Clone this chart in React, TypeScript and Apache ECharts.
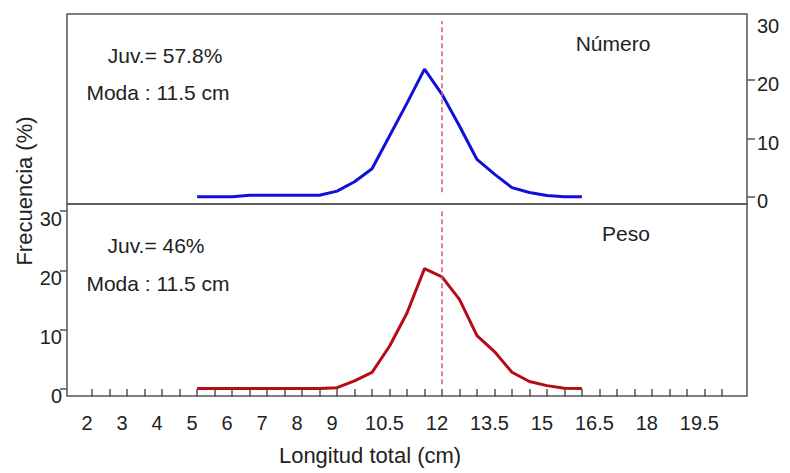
import React, { useEffect, useRef } from 'react';
import * as echarts from 'echarts';

// tallas (cm), cada 0.5 cm
const lengths = [5, 5.5, 6, 6.5, 7, 7.5, 8, 8.5, 9, 9.5, 10, 10.5, 11, 11.5, 12, 12.5, 13, 13.5, 14, 14.5, 15, 15.5, 16];

// frecuencia en número (%)
const numero = [0.05, 0.05, 0.05, 0.3, 0.3, 0.3, 0.3, 0.3, 1.0, 2.6, 4.8, 10.4, 16.0, 21.8, 17.5, 12.1, 6.4, 3.9, 1.6, 0.75, 0.25, 0.05, 0.05];

// frecuencia en peso (%)
const peso = [0.05, 0.05, 0.05, 0.05, 0.05, 0.05, 0.05, 0.05, 0.2, 1.35, 2.8, 7.2, 12.8, 20.3, 18.9, 15.1, 9.0, 6.3, 2.8, 1.25, 0.55, 0.1, 0.05];

const xTicks = [2, 2.5, 3, 3.5, 4, 4.5, 5, 5.5, 6, 6.5, 7, 7.5, 8, 8.5, 9, 9.5, 10, 10.5, 11, 11.5, 12, 12.5, 13, 13.5, 14, 14.5, 15, 15.5, 16, 16.5, 17, 17.5, 18, 18.5, 19, 19.5, 20];
const xLabels = [2, 3, 4, 5, 6, 7, 8, 9, 10.5, 12, 13.5, 15, 16.5, 18, 19.5];
const yTicksTop = [0, 10, 20];
const yLabels = [0, 10, 20, 30];

const tallaMinima = 12; // linea discontinua
const FONT = '"Liberation Sans", Arial, sans-serif';
const TXT = '#222';
const FRAME = '#555';

const App: React.FC = () => {
  const chartRef = useRef<HTMLDivElement | null>(null);

  useEffect(() => {
    document.body.style.margin = '0';
    if (!chartRef.current) return;
    const chart = echarts.init(chartRef.current, undefined, { renderer: 'svg' });

    const cutLine = (color: string) => ({
      silent: true,
      symbol: 'none',
      label: { show: false },
      lineStyle: { type: [5, 3], color, width: 1.5 },
      data: [[{ coord: [tallaMinima, 0.8] }, { coord: [tallaMinima, 30] }]],
    });

    const option = {
      animation: false,
      backgroundColor: '#fff',
      textStyle: { fontFamily: FONT },
      grid: [
        { left: 67, right: 43, top: 14, height: 190, show: true, borderColor: FRAME, borderWidth: 1.5, containLabel: false },
        { left: 67, right: 43, top: 204, height: 192, show: true, borderColor: FRAME, borderWidth: 1.5, containLabel: false },
      ],
      xAxis: [
        { type: 'value', gridIndex: 0, min: 1.28, max: 20.72, show: false },
        {
          type: 'value',
          gridIndex: 1,
          min: 1.28,
          max: 20.72,
          axisLine: { show: false },
          splitLine: { show: false },
          axisTick: { show: true, customValues: xTicks, length: 8, lineStyle: { color: FRAME, width: 1.5 } },
          axisLabel: {
            customValues: xLabels,
            margin: 17,
            fontSize: 20,
            color: TXT,
            fontFamily: FONT,
            padding: [0, 10, 0, 0],
          },
          name: 'Longitud total (cm)',
          nameLocation: 'middle',
          nameGap: 48,
          nameTextStyle: { fontSize: 22, color: TXT, fontFamily: FONT, padding: [0, 74, 0, 0], verticalAlign: 'top' },
        },
      ],
      yAxis: [
        {
          type: 'value',
          gridIndex: 0,
          position: 'right',
          min: -1.2,
          max: 31.2,
          axisLine: { show: false },
          splitLine: { show: false },
          axisTick: { show: true, customValues: yTicksTop, length: 8, lineStyle: { color: FRAME, width: 1.5 } },
          axisLabel: {
            customValues: yLabels,
            margin: 10,
            fontSize: 20,
            color: TXT,
            fontFamily: FONT,
            verticalAlign: 'top',
            lineHeight: 9,
          },
        },
        {
          type: 'value',
          gridIndex: 1,
          position: 'left',
          min: -1.2,
          max: 31.2,
          axisLine: { show: false },
          splitLine: { show: false },
          axisTick: { show: true, customValues: yLabels, length: 7, lineStyle: { color: FRAME, width: 1.5 } },
          axisLabel: {
            customValues: yLabels,
            margin: 5,
            fontSize: 20,
            color: TXT,
            fontFamily: FONT,
            verticalAlign: 'top',
            lineHeight: 15,
          },
        },
      ],
      series: [
        {
          name: 'Número',
          type: 'line',
          xAxisIndex: 0,
          yAxisIndex: 0,
          data: lengths.map((x, i) => [x, numero[i]]),
          symbol: 'none',
          lineStyle: { color: '#1010d8', width: 3 },
          itemStyle: { color: '#1010d8' },
          markLine: cutLine('#cf5f78'),
        },
        {
          name: 'Peso',
          type: 'line',
          xAxisIndex: 1,
          yAxisIndex: 1,
          data: lengths.map((x, i) => [x, peso[i]]),
          symbol: 'none',
          lineStyle: { color: '#b50c16', width: 3 },
          itemStyle: { color: '#b50c16' },
          markLine: cutLine('#cf5f78'),
        },
      ],
      graphic: [
        { type: 'text', x: 165, y: 55, style: { text: 'Juv.= 57.8%', font: `21px ${FONT}`, fill: TXT, align: 'center', verticalAlign: 'middle' } },
        { type: 'text', x: 158, y: 92, style: { text: 'Moda : 11.5 cm', font: `21px ${FONT}`, fill: TXT, align: 'center', verticalAlign: 'middle' } },
        { type: 'text', x: 613, y: 43, style: { text: 'Número', font: `21px ${FONT}`, fill: TXT, align: 'center', verticalAlign: 'middle' } },
        { type: 'text', x: 156, y: 245, style: { text: 'Juv.= 46%', font: `21px ${FONT}`, fill: TXT, align: 'center', verticalAlign: 'middle' } },
        { type: 'text', x: 158, y: 283, style: { text: 'Moda : 11.5 cm', font: `21px ${FONT}`, fill: TXT, align: 'center', verticalAlign: 'middle' } },
        { type: 'text', x: 626, y: 233, style: { text: 'Peso', font: `21px ${FONT}`, fill: TXT, align: 'center', verticalAlign: 'middle' } },
        {
          type: 'text',
          x: 24,
          y: 191,
          rotation: Math.PI / 2,
          style: { text: 'Frecuencia (%)', font: `22px ${FONT}`, fill: TXT, align: 'center', verticalAlign: 'middle' },
        },
      ],
    };

    chart.setOption(option);
    return () => {
      chart.dispose();
    };
  }, []);

  return <div ref={chartRef} style={{ width: '790px', height: '473px' }} />;
};

export default App;
